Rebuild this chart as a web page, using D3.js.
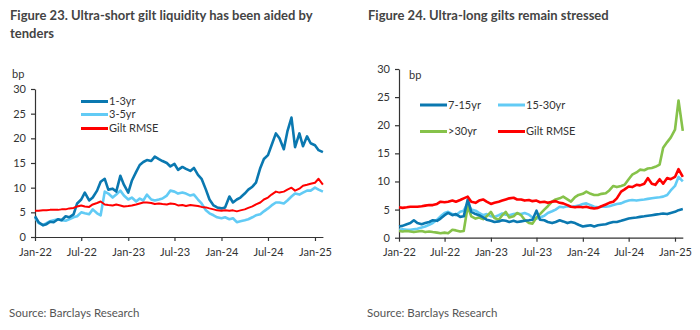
<!DOCTYPE html>
<html lang="en">
<head>
<meta charset="UTF-8">
<title>Gilt liquidity</title>
<script src="https://d3js.org/d3.v7.min.js"></script>
<style>
  body { margin: 0; background: #fff; }
  svg { display: block; font-family: Lato, "Open Sans", sans-serif; }
</style>
</head>
<body>
<svg width="700" height="330"></svg>
<script>
// half-monthly observations, 1 Jan 2022 .. 1 Feb 2025
const dates = d3.range(75).map(i => new Date(2022 + Math.floor(i / 24), Math.floor((i % 24) / 2), i % 2 ? 15 : 1));
const tickLabels = ["Jan-22", "Jul-22", "Jan-23", "Jul-23", "Jan-24", "Jul-24", "Jan-25"];
const yTicks = [0, 5, 10, 15, 20, 25, 30];

// Figure 23
const short13 = [4.2,3.0,2.4,2.6,3.1,3.0,3.6,3.4,4.2,4.0,4.6,6.8,7.6,9.0,7.4,8.0,9.4,11.2,11.8,9.6,9.8,9.2,12.4,10.6,
  9.0,11.4,13.2,14.6,15.2,15.6,15.4,16.3,15.8,15.4,15.0,14.3,14.8,13.6,14.2,13.8,13.4,14.0,12.6,11.8,9.6,7.6,6.4,6.0,
  5.8,6.0,8.2,7.0,7.6,8.0,8.8,9.6,10.2,11.0,14.0,15.8,16.6,18.6,21.0,20.0,17.8,21.4,24.2,18.2,21.0,18.4,20.4,19.0,
  18.6,17.6,17.2];
const short35 = [4.0,2.8,2.4,2.8,3.2,3.4,3.6,3.4,3.3,3.6,4.0,4.2,5.0,4.8,4.6,5.6,4.8,4.4,9.2,8.8,8.0,8.6,9.4,8.4,
  7.6,8.0,7.2,7.8,7.4,8.6,7.6,7.4,7.6,7.8,8.4,9.4,9.2,8.8,9.0,8.8,8.4,8.6,7.6,6.8,5.4,4.8,4.4,4.0,
  3.8,4.0,3.6,3.8,3.0,3.2,3.4,3.6,4.0,4.4,4.6,5.2,5.8,6.4,7.0,7.0,6.8,7.4,8.2,8.8,8.6,9.0,9.4,9.4,
  10.0,9.6,9.2];
const shortRmse = [5.3,5.3,5.4,5.4,5.5,5.5,5.5,5.6,5.6,5.8,5.9,6.2,6.4,6.2,6.1,6.6,6.9,7.2,6.6,6.5,6.4,6.6,6.4,6.2,
  6.3,6.4,6.6,6.8,7.0,7.0,6.9,6.7,6.8,6.7,6.6,6.8,6.7,6.4,6.5,6.3,6.5,6.4,6.3,6.1,6.0,5.8,5.6,5.4,
  5.3,5.4,5.3,5.4,5.2,5.4,5.6,5.9,6.2,6.6,7.0,7.6,8.0,8.6,9.2,9.0,9.2,9.6,10.0,9.4,9.8,10.4,10.6,10.8,
  11.0,11.8,10.6];

// Figure 24
const long715 = [2.0,2.1,2.4,2.6,3.1,2.6,2.4,2.6,2.8,3.1,3.0,3.4,4.0,4.4,4.0,4.2,3.7,3.8,6.8,4.6,4.2,4.0,3.6,3.2,
  3.0,2.8,2.9,3.1,3.0,2.8,3.0,2.8,2.9,3.0,3.1,3.2,4.8,3.2,3.1,2.8,2.6,2.8,3.1,2.9,2.6,2.8,2.6,2.3,
  2.0,2.1,2.2,2.0,2.2,2.3,2.4,2.6,2.8,2.8,3.0,3.2,3.4,3.5,3.6,3.7,3.8,3.9,4.0,4.1,4.2,4.3,4.2,4.4,
  4.6,4.9,5.1];
const long1530 = [1.4,1.5,1.4,1.4,1.5,1.6,1.8,2.0,2.3,2.6,3.2,3.8,4.4,4.6,4.2,4.0,4.6,4.8,6.2,5.0,4.8,4.4,4.0,4.2,
  3.8,3.7,4.0,4.3,4.1,4.0,4.2,4.3,4.2,4.4,4.1,3.6,3.4,3.6,3.9,4.4,4.7,5.0,5.5,5.4,5.6,5.5,5.6,5.7,
  6.0,6.1,5.8,5.5,5.4,5.5,5.5,5.6,5.8,6.0,6.1,6.4,6.6,6.7,6.6,6.7,6.8,6.9,7.0,7.1,7.2,7.3,7.6,8.4,
  9.2,10.8,10.0];
const long30 = [1.2,1.1,1.2,1.1,1.0,1.1,1.2,1.0,1.1,1.0,0.9,0.8,0.9,0.8,1.4,1.3,1.1,1.2,5.6,3.8,3.4,3.6,3.3,3.8,
  4.6,3.5,3.2,4.0,4.6,3.6,3.8,4.4,4.0,3.2,2.6,2.5,3.6,4.2,5.0,5.6,6.4,6.8,7.0,7.3,6.8,6.4,7.2,7.6,
  7.8,8.2,7.8,7.6,7.6,7.8,7.9,8.4,9.2,9.0,9.2,9.4,10.4,11.2,11.6,12.1,12.0,12.3,12.4,12.6,13.0,16.0,17.0,17.8,
  19.2,24.4,19.0];
const longRmse = [5.4,5.3,5.4,5.5,5.5,5.5,5.6,5.7,5.8,5.8,6.0,6.4,6.3,6.4,6.6,6.4,6.7,7.0,7.3,6.4,6.2,6.6,6.8,6.4,
  6.0,6.2,6.4,6.6,6.8,7.0,7.1,6.8,6.8,6.6,6.7,6.5,6.6,6.3,6.4,6.2,6.4,6.5,6.2,6.1,5.8,5.5,5.4,5.5,
  5.4,5.5,5.3,5.2,5.3,5.6,5.9,6.2,6.4,7.0,8.2,8.6,9.1,9.0,9.4,9.3,9.6,10.6,9.6,9.4,10.4,9.6,10.6,10.4,
  10.8,12.2,10.8];

const DARK = "#0a78b0", LIGHT = "#62cbf5", RED = "#ff0000", GREEN = "#86c24a";

const svg = d3.select("svg");
const parseTick = d3.timeParse("%b-%y");

function panel(cfg) {
  const g = svg.append("g");
  const x = d3.scaleTime().domain([dates[0], dates[dates.length - 1]]).range(cfg.xr);
  const y = d3.scaleLinear().domain([0, 30]).range(cfg.yr);

  g.append("g")
    .attr("transform", `translate(0,${cfg.yr[0]})`)
    .call(d3.axisBottom(x).tickValues(tickLabels.map(parseTick)).tickFormat(d3.timeFormat("%b-%y")).tickSize(4).tickSizeOuter(0))
    .call(a => a.selectAll("text").attr("dy", "1.05em").style("font-size", "11px").attr("fill", "#333"));

  g.append("g")
    .attr("transform", `translate(${cfg.xr[0]},0)`)
    .call(d3.axisLeft(y).tickValues(yTicks).tickSize(4).tickSizeOuter(0).tickPadding(5))
    .call(a => a.selectAll("text").style("font-size", "11px").attr("fill", "#333"));

  g.selectAll(".domain, .tick line").attr("stroke", "#333").attr("stroke-width", 1.2);
  g.selectAll("text").attr("font-family", "Lato, 'Open Sans', sans-serif");

  const line = d3.line().x((d, i) => x(dates[i])).y(d => y(d));
  cfg.series.forEach(s => {
    g.append("path").datum(s.values)
      .attr("fill", "none").attr("stroke", s.color).attr("stroke-width", s.w)
      .attr("stroke-linejoin", "round").attr("d", line);
  });

  cfg.legend.forEach(l => {
    g.append("line").attr("x1", l.x).attr("x2", l.x + 27).attr("y1", l.y).attr("y2", l.y)
      .attr("stroke", l.color).attr("stroke-width", 3);
    g.append("text").attr("x", l.x + 28).attr("y", l.y).attr("dy", "0.35em")
      .style("font-size", "11px").attr("fill", "#333").text(l.name);
  });

  g.append("text").attr("x", cfg.bp[0]).attr("y", cfg.bp[1]).attr("dy", "0.35em")
    .style("font-size", "11px").attr("fill", "#333").text("bp");

  cfg.title.forEach((t, i) => {
    g.append("text").attr("x", cfg.tx).attr("y", 20 + i * 18)
      .style("font-size", "13px").style("font-weight", 700).attr("fill", "#444").text(t);
  });

  g.append("text").attr("x", cfg.tx - 1).attr("y", 313).attr("dy", "0.35em")
    .style("font-size", "11.5px").attr("fill", "#555").text("Source: Barclays Research");
}

panel({
  xr: [35, 322.9], yr: [237, 89], tx: 10, bp: [12, 74],
  title: ["Figure 23. Ultra-short gilt liquidity has been aided by", "tenders"],
  series: [
    { values: short35, color: LIGHT, w: 2.6 },
    { values: short13, color: DARK, w: 2.6 },
    { values: shortRmse, color: RED, w: 2 }
  ],
  legend: [
    { name: "1-3yr", color: DARK, x: 81, y: 101.5 },
    { name: "3-5yr", color: LIGHT, x: 81, y: 114.5 },
    { name: "Gilt RMSE", color: RED, x: 81, y: 128.5 }
  ]
});

panel({
  xr: [399, 682.8], yr: [237.7, 69], tx: 368, bp: [409, 75],
  title: ["Figure 24. Ultra-long gilts remain stressed"],
  series: [
    { values: long1530, color: LIGHT, w: 2.6 },
    { values: long30, color: GREEN, w: 2.6 },
    { values: long715, color: DARK, w: 2.6 },
    { values: longRmse, color: RED, w: 2.6 }
  ],
  legend: [
    { name: "7-15yr", color: DARK, x: 420, y: 105 },
    { name: "15-30yr", color: LIGHT, x: 498, y: 105 },
    { name: ">30yr", color: GREEN, x: 420, y: 131.5 },
    { name: "Gilt RMSE", color: RED, x: 498, y: 131.5 }
  ]
});
</script>
</body>
</html>
